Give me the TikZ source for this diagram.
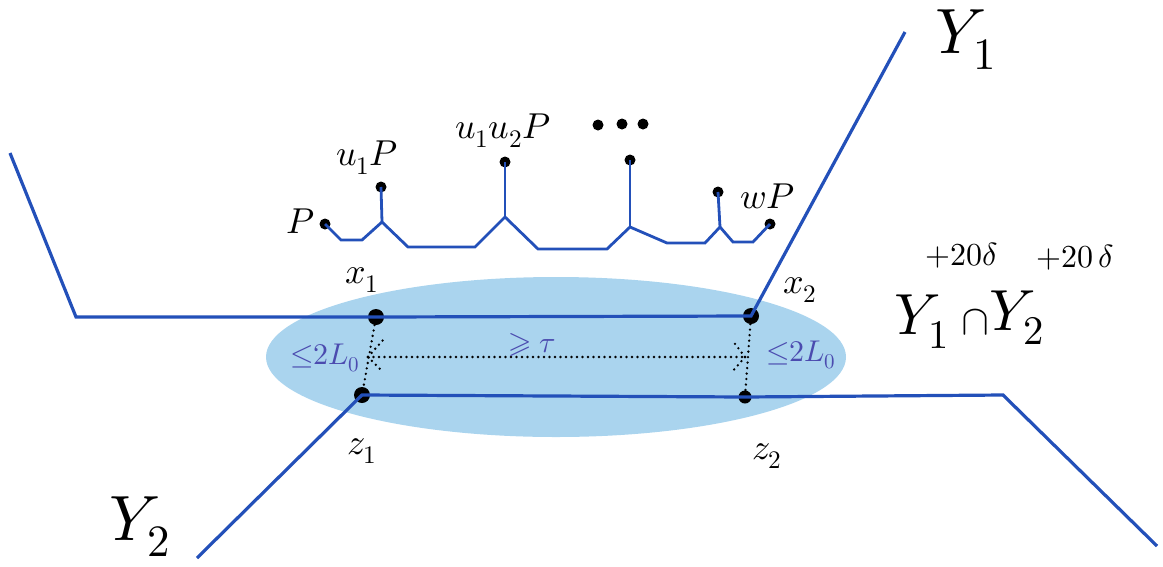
\documentclass[tikz,border=0pt]{standalone}
\usepackage{unicode-math}
\setmathfont{Latin Modern Math}
\usetikzlibrary{calc}
\definecolor{lineblue}{RGB}{35,80,185}
\definecolor{fillblue}{RGB}{170,212,238}
\definecolor{lblblue}{RGB}{75,75,175}
\tikzset{
  geo/.style={draw=lineblue, line width=3.2pt, line join=miter},
  tree/.style={draw=lineblue, line width=2.8pt, line join=miter},
  bigdot/.style={circle, fill=black, inner sep=0pt, minimum size=16pt},
  smalldot/.style={circle, fill=black, inner sep=0pt, minimum size=11pt},
  dotline/.style={draw=black, line width=2.6pt, line cap=round, dash pattern=on 0pt off 5.5pt},
  lbl/.style={inner sep=0pt, font=\fontsize{36}{40}\selectfont},
  biglbl/.style={inner sep=0pt, font=\fontsize{64}{70}\selectfont},
  suplbl/.style={inner sep=0pt, font=\fontsize{32}{36}\selectfont},
  bluelbl/.style={inner sep=0pt, text=lblblue, font=\fontsize{30}{36}\selectfont}
}
\begin{document}
\begin{tikzpicture}[x=1pt,y=-1pt]
\useasboundingbox (0,0) rectangle (1163,566);
% ellipse
\fill[fillblue] (556,357) ellipse [x radius=290, y radius=80];
% coordinates
\coordinate (a1) at (10,153);
\coordinate (a2) at (76,317);
\coordinate (a3) at (905,32);
\coordinate (b1) at (197,558);
\coordinate (b3) at (1003,395);
\coordinate (b4) at (1157,546);
\node[bigdot] (x1) at (376,317) {};
\node[bigdot] (x2) at (751,316) {};
\node[bigdot] (z1) at (362,395) {};
\node[smalldot, minimum size=13pt] (z2) at (745,397) {};
% geodesics
\draw[geo] (a1) -- (a2) -- (x1.center) -- (x2.center) -- (a3);
\draw[geo] (b1) -- (z1.center) -- (z2.center) -- (b3) -- (b4);
% tree
\node[smalldot] (p) at (325,224) {};
\node[smalldot] (u1p) at (381,187) {};
\node[smalldot] (u1u2p) at (505,162) {};
\node[smalldot] (dd) at (630,160) {};
\node[smalldot] (sd) at (718,192) {};
\node[smalldot] (wp) at (770,224) {};
\coordinate (j1) at (382,222);
\coordinate (j2) at (505,217);
\coordinate (j3) at (630,227);
\coordinate (j4) at (720,227);
\draw[tree] (p.center) -- (341,240) -- (362,240) -- (j1) -- (408,247) -- (475,247) -- (j2)
  -- (538,249) -- (607,249) -- (j3) -- (667,243) -- (705,243) -- (j4) -- (733,242) -- (753,242) -- (wp.center);
\draw[tree] (j1) -- (u1p.center);
\draw[tree] (j2) -- (u1u2p.center);
\draw[tree] (j3) -- (dd.center);
\draw[tree] (j4) -- (sd.center);
% three dots
\fill (598,125) circle (5.5pt) (622,124) circle (5.5pt) (643,124) circle (5.5pt);
% dotted measures
\draw[dotline] (x1) -- (z1);
\draw[dotline] (x2) -- (z2);
\coordinate (ml) at (368,357);
\coordinate (mr) at (745,357);
\draw[dotline] (ml) -- (mr);
\draw[dotline] (ml) -- ++(15,-17);
\draw[dotline] (ml) -- ++(15,15);
\draw[dotline] (mr) -- ++(-13,-17);
\draw[dotline] (mr) -- ++(-13,15);
% labels
\node[lbl] (lp) at (301,221) {$P$};
\node[lbl] (lu1p) at (367,158) {$u_1P$};
\node[lbl] (lu1u2p) at (503,131) {$u_1u_2P$};
\node[lbl] (lwp) at (768,196) {$wP$};
\node[lbl] (lx1) at (362,280) {$x_1$};
\node[lbl] (lx2) at (800,290) {$x_2$};
\node[lbl] (lz1) at (362,451) {$z_1$};
\node[lbl] (lz2) at (767,456) {$z_2$};
\node[biglbl] (lY1) at (966,40) {$Y_1$};
\node[biglbl] (lY2) at (140,527) {$Y_2$};
% intersection label
\node[biglbl, font=\fontsize{58}{64}\selectfont] (iY1) at (922,322) {$Y_1$};
\node[suplbl] (is1) at (962,255) {$+20\delta$};
\node[inner sep=0pt, font=\fontsize{42}{48}\selectfont] (icap) at (975,322) {$\cap$};
\node[biglbl, font=\fontsize{58}{64}\selectfont] (iY2) at (1017,318) {$Y_2$};
\node[suplbl] (is2) at (1075,257) {$+20\,\delta$};
% blue labels
\node[bluelbl] (ll) at (325,358) {${\leq}2L_0$};
\node[bluelbl] (lr) at (801,355) {${\leq}2L_0$};
\node[bluelbl] (lt) at (532,345) {$\geqslant\tau$};
\end{tikzpicture}
\end{document}
